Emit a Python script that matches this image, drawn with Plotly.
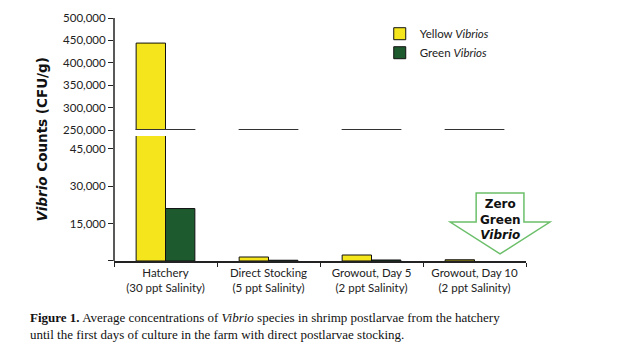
import plotly.graph_objects as go

categories = ["Hatchery<br>(30 ppt Salinity)", "Direct Stocking<br>(5 ppt Salinity)",
              "Growout, Day 5<br>(2 ppt Salinity)", "Growout, Day 10<br>(2 ppt Salinity)"]
yellow = [444000, 1600, 2400, 500]
green = [21000, 300, 400, None]
lower_ticks = [0, 15000, 30000, 45000]
lower_labels = ["", "15,000", "30,000", "45,000"]
upper_ticks = [250000, 300000, 350000, 400000, 450000, 500000]
upper_labels = ["250,000", "300,000", "350,000", "400,000", "450,000", "500,000"]

YEL = "#f4e51c"
GRN = "#1d5a2e"
TXT = "#222222"
tickfont = dict(family="Lato", size=11.5, color=TXT)

fig = go.Figure()
for yax, show in (("y", True), ("y2", False)):
    fig.add_trace(go.Bar(x=categories, y=yellow, name="Yellow <i>Vibrios</i>", marker=dict(color=YEL, line=dict(color="#111", width=1)),
                         yaxis=yax, showlegend=show, legendgroup="y"))
    fig.add_trace(go.Bar(x=categories, y=green, name="Green <i>Vibrios</i>", marker=dict(color=GRN, line=dict(color="#111", width=1)),
                         yaxis=yax, showlegend=show, legendgroup="g"))

shapes = []
# axis break lines at the bottom of the upper panel, one per category group
for i in range(len(categories)):
    shapes.append(dict(type="line", xref="x", yref="y2", x0=i - 0.29, x1=i + 0.29,
                       y0=upper_ticks[0], y1=upper_ticks[0], line=dict(color="#333", width=2)))
# continuous y axis line
shapes.append(dict(type="line", xref="paper", yref="paper", x0=0, x1=0, y0=0, y1=1,
                   line=dict(color=TXT, width=1.5)))
# "Zero Green Vibrio" arrow
ax = [0.879, 0.995, 0.995, 1.058, 0.937, 0.816, 0.879]
ay = [0.280, 0.280, 0.160, 0.160, 0.029, 0.160, 0.160]
path = "M" + " L".join(f"{a},{b}" for a, b in zip(ax, ay)) + " Z"
shapes.append(dict(type="path", xref="paper", yref="paper", path=path,
                   line=dict(color="#6cbf6a", width=1.5), fillcolor="rgba(0,0,0,0)"))

fig.update_layout(
    width=620, height=354,
    margin=dict(l=114, r=94, t=18, b=93),
    paper_bgcolor="white", plot_bgcolor="white",
    barmode="group", bargap=0.43, bargroupgap=0,
    shapes=shapes,
    xaxis=dict(showline=True, linecolor=TXT, linewidth=1.5, ticks="outside", ticklen=4,
               tickcolor=TXT, tickson="boundaries", tickfont=dict(family="Lato", size=11.5, color=TXT),
               showgrid=False, zeroline=False),
    yaxis=dict(domain=[0, 0.514], range=[0, 50000], tickvals=lower_ticks, ticktext=lower_labels,
               ticks="outside", ticklen=5, tickcolor=TXT, showgrid=False, zeroline=False,
               showline=False, tickfont=tickfont),
    yaxis2=dict(domain=[0.539, 1], range=[250000, 500000], tickvals=upper_ticks, ticktext=upper_labels,
                ticks="outside", ticklen=5, tickcolor=TXT, showgrid=False, zeroline=False,
                showline=False, tickfont=tickfont),
    legend=dict(x=0.645, y=0.995, xanchor="left", yanchor="top", bgcolor="rgba(0,0,0,0)",
                font=dict(family="Lato", size=11.5, color=TXT), tracegroupgap=0, itemwidth=30),
    annotations=[
        dict(text="<b><i>Vibrio</i> Counts (CFU/g)</b>", xref="paper", yref="paper",
             x=(41 - 114) / 412, y=0.5, xanchor="center", yanchor="middle", textangle=-90, showarrow=False,
             font=dict(family="DejaVu Sans", size=13.5, color="#111")),
        dict(text="<b>Zero<br>Green<br><i>Vibrio</i></b>", xref="paper", yref="paper",
             x=0.937, y=0.172, xanchor="center", yanchor="middle", showarrow=False, align="center",
             font=dict(family="DejaVu Sans", size=12, color="#111")),
        dict(text="<b>Figure 1.</b> Average concentrations of <i>Vibrio</i> species in shrimp postlarvae from the hatchery<br>"
                  "until the first days of culture in the farm with direct postlarvae stocking.",
             xref="paper", yref="paper", x=(28 - 114) / 412, y=(261 - 308) / 243,
             xanchor="left", yanchor="top", align="left", showarrow=False,
             font=dict(family="Liberation Serif, Times New Roman, serif", size=13, color="#111")),
    ],
)

fig.write_html("out.html")
